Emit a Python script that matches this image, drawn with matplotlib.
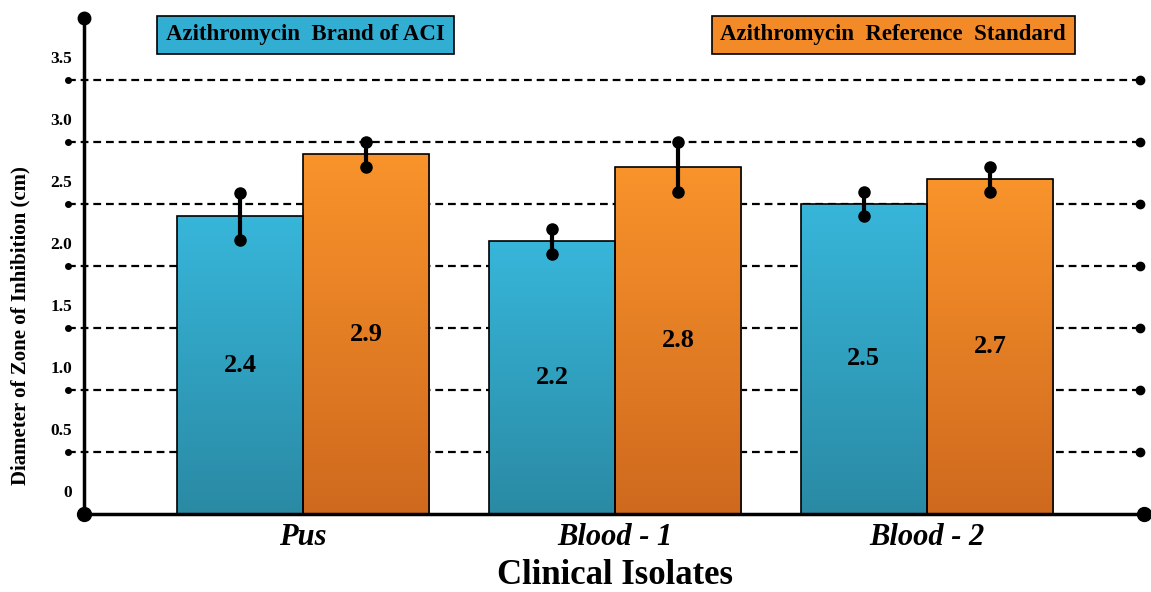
import numpy as np
import matplotlib
matplotlib.use("Agg")
import matplotlib.pyplot as plt
from matplotlib.colors import LinearSegmentedColormap

categories = ["Pus", "Blood - 1", "Blood - 2"]
brand_values = [2.4, 2.2, 2.5]
brand_err = [0.19, 0.10, 0.10]
ref_values = [2.9, 2.8, 2.7]
ref_err = [0.10, 0.20, 0.10]
series_names = ["Azithromycin  Brand of ACI", "Azithromycin  Reference  Standard"]
y_ticks = [0, 0.5, 1.0, 1.5, 2.0, 2.5, 3.0, 3.5]
y_tick_labels = ["0", "0.5", "1.0", "1.5", "2.0", "2.5", "3.0", "3.5"]

plt.rcParams['font.family'] = ['Liberation Serif', 'DejaVu Serif']

blue_cmap = LinearSegmentedColormap.from_list("b", ["#2a8aa4", "#37b6da"])
orange_cmap = LinearSegmentedColormap.from_list("o", ["#cf691e", "#f9932b"])

fig = plt.figure(figsize=(11.51, 5.92), dpi=100)
ax = fig.add_axes([0.073, 0.1318, 0.9209, 0.8412])
ax.set_xlim(-0.702, 2.696)
ax.set_ylim(0, 4.016)
ax.axis("off")

x = np.arange(len(categories))
width = 0.404
grad = np.linspace(0, 1, 256).reshape(-1, 1)


def gradient_bars(xpos, values, cmap):
    bars = ax.bar(xpos, values, width, facecolor="none", edgecolor="black",
                  linewidth=1.2, zorder=4)
    for b in bars:
        im = ax.imshow(grad, cmap=cmap, aspect="auto", origin="lower",
                       extent=[b.get_x(), b.get_x() + b.get_width(), 0, b.get_height()],
                       zorder=3)
        im.set_clip_path(b)
    return bars


# grid lines with dots at ends
for t in y_ticks[1:]:
    ax.plot([-0.752, 2.683], [t, t], color="black", lw=1.6, ls=(0, (3.5, 2.2)),
            zorder=1, clip_on=False)
    ax.plot([-0.752], [t], "o", color="black", ms=4, clip_on=False, zorder=1)
    ax.plot([2.683], [t], "o", color="black", ms=6, clip_on=False, zorder=1)

# axes
ax.plot([-0.702, -0.702], [0, 4.016], color="black", lw=2.5, clip_on=False, zorder=5)
ax.plot([-0.702], [4.0], "o", color="black", ms=9, clip_on=False, zorder=5)
ax.plot([-0.702, 2.696], [0, 0], color="black", lw=2.5, clip_on=False, zorder=5)
ax.plot([-0.702, 2.696], [0, 0], "o", color="black", ms=10, clip_on=False, zorder=5)

gradient_bars(x - width / 2, brand_values, blue_cmap)
gradient_bars(x + width / 2, ref_values, orange_cmap)

# error bars with round caps
for xs, vals, errs in [(x - width / 2, brand_values, brand_err),
                       (x + width / 2, ref_values, ref_err)]:
    for xi, v, e in zip(xs, vals, errs):
        ax.plot([xi, xi], [v - e, v + e], color="black", lw=3, zorder=6)
        ax.plot([xi, xi], [v - e, v + e], "o", color="black", ms=8, zorder=6)
    for xi, v in zip(xs, vals):
        ax.text(xi, v / 2, f"{v:.1f}", ha="center", va="center", fontsize=19,
                fontweight="bold", zorder=7)

# tick labels sit above the grid lines
for t, lab in zip(y_ticks, y_tick_labels):
    ax.text(-0.74, t + 0.17, lab, ha="right", va="center", fontsize=12.5,
            fontweight="bold")

for xi, c in zip(x, categories):
    ax.text(xi, -0.19, c, ha="center", va="center", fontsize=22,
            fontweight="bold", style="italic")

fig.text(0.534, 0.028, "Clinical Isolates", ha="center", va="center",
         fontsize=25, fontweight="bold")
fig.text(0.018, 0.45, "Diameter of Zone of Inhibition (cm)", rotation=90,
         ha="center", va="center", fontsize=15, fontweight="bold")

# legend boxes
fig.text(0.2654, 0.941, series_names[0], ha="center", va="center", fontsize=16.5,
         fontweight="bold",
         bbox=dict(boxstyle="square,pad=0.38", facecolor="#33aed3",
                   edgecolor="black", linewidth=1.2))
fig.text(0.776, 0.941, series_names[1], ha="center", va="center", fontsize=16.5,
         fontweight="bold",
         bbox=dict(boxstyle="square,pad=0.38", facecolor="#f28a28",
                   edgecolor="black", linewidth=1.2))

fig.savefig("out.png", dpi=100)
